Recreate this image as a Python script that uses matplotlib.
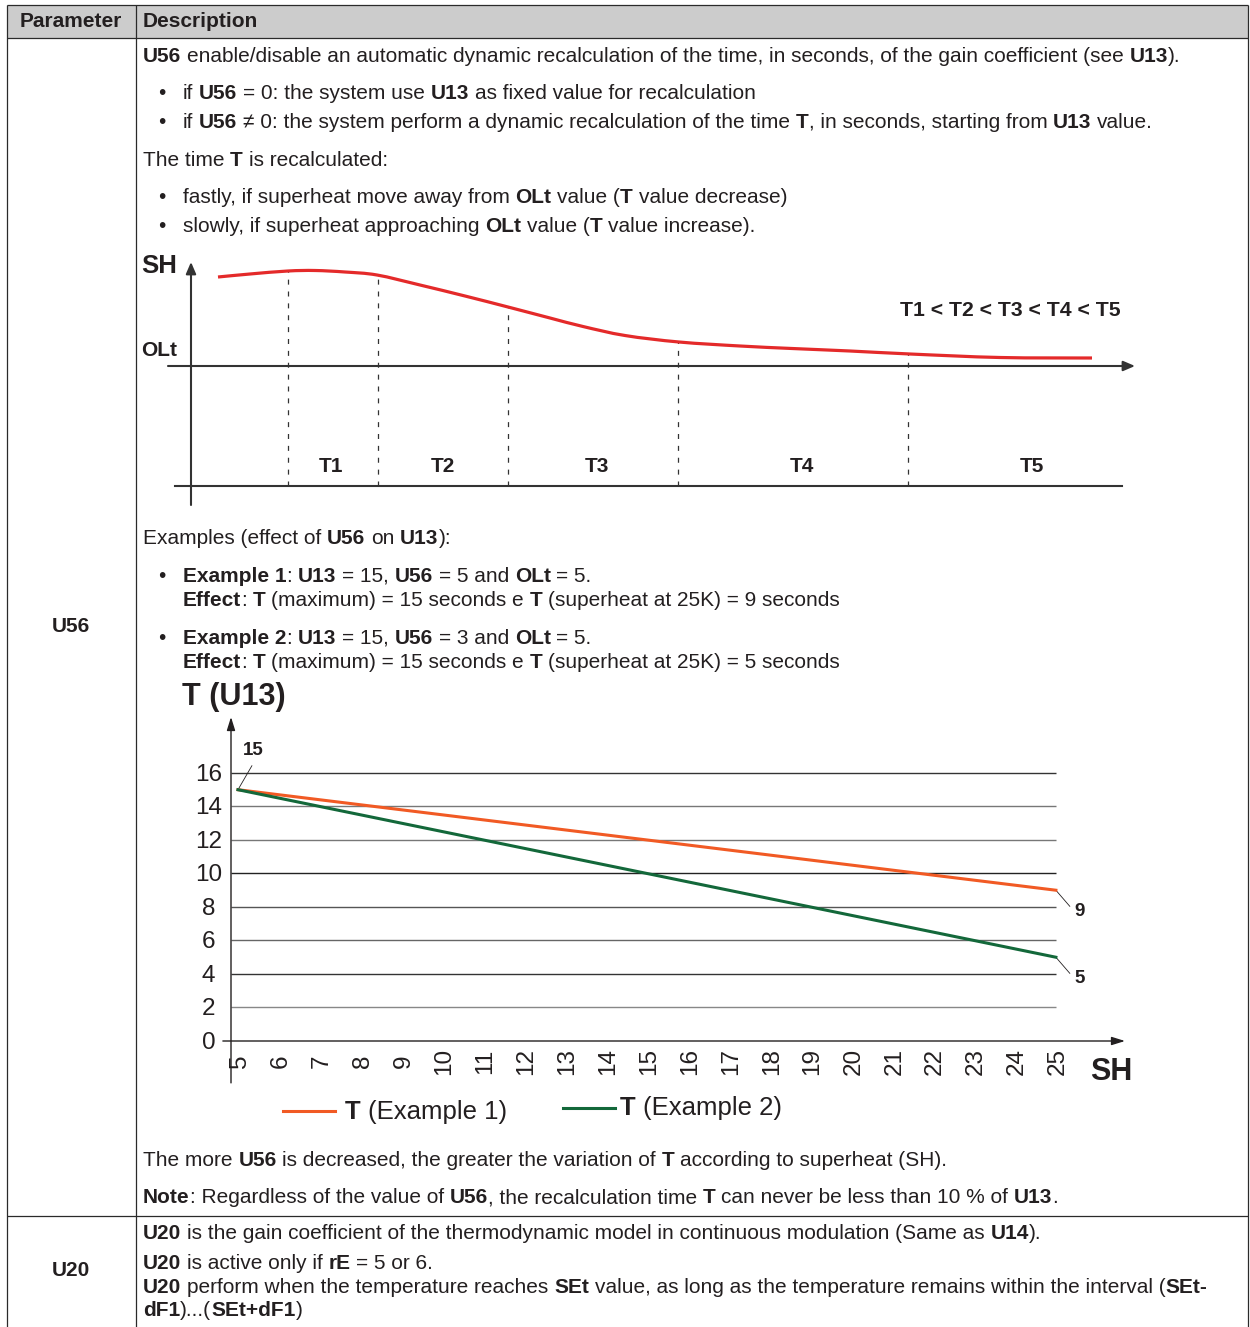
import matplotlib
matplotlib.use('Agg')
import matplotlib.pyplot as plt
import numpy as np
from matplotlib.font_manager import FontProperties
from matplotlib.patches import Rectangle, PathPatch
from matplotlib.path import Path

# ---------------- data ----------------
# conceptual superheat curve (diagram 1), time units vs SH above OLt
t_curve = [2.7, 5.9, 9.7, 12.4, 15.4, 18.6, 22.9, 27.4, 31.7, 35.9, 39.2, 43.4,
           48.8, 54.9, 60.1, 65.9, 71.9, 80.9, 90.1]
sh_curve = [8.9, 9.2, 9.5, 9.55, 9.4, 9.1, 8.1, 7.0, 5.9, 4.8, 3.95, 3.05,
            2.4, 2.0, 1.75, 1.5, 1.2, 0.85, 0.8]
t_bounds = [9.7, 18.7, 31.7, 48.7, 71.7]
sh_bounds = [9.5, 9.1, 5.9, 2.4, 1.2]
t_labels = ['T1', 'T2', 'T3', 'T4', 'T5']
t_label_x = [14.0, 25.2, 40.6, 61.1, 84.1]

# chart 2: T (U13) vs SH
sh_pts = [5, 25]
t_example1 = [15, 9]
t_example2 = [15, 5]
sh_ticks = list(range(5, 26))
t_ticks = [0, 2, 4, 6, 8, 10, 12, 14, 16]
series_names = ['T (Example 1)', 'T (Example 2)']

# ---------------- figure ----------------
W, H, DPI = 1250, 1327, 100
fig = plt.figure(figsize=(W / DPI, H / DPI), dpi=DPI)
fig.patch.set_facecolor('white')
base = fig.add_axes([0, 0, 1, 1])
base.set_xlim(0, W)
base.set_ylim(H, 0)
base.axis('off')
R = fig.canvas.get_renderer()

TXT = '#231f20'
ARIAL = ['Liberation Sans', 'DejaVu Sans']
BODY = ARIAL
BS = 15


def fprop(bold, size, family):
    return FontProperties(family=family, weight='bold' if bold else 'normal', size=size)


def adv(s, prop):
    w1 = R.get_text_width_height_descent('|' + s + '|', prop, ismath=False)[0]
    w0 = R.get_text_width_height_descent('||', prop, ismath=False)[0]
    return w1 - w0


def rich(x, y, markup, size=BS, family=BODY, color=TXT, va='baseline'):
    parts = markup.split('**')
    for i, s in enumerate(parts):
        if not s:
            continue
        prop = fprop(i % 2 == 1, size, family)
        core = s.strip(' ')
        lead = len(s) - len(s.lstrip(' '))
        trail = len(s) - len(s.rstrip(' '))
        sp = adv(' ', prop)
        x += lead * sp
        if core:
            base.text(x, y, core, fontproperties=prop, color=color, va=va, ha='left')
            x += adv(core, prop)
        x += trail * sp
    return x


# ---------------- table ----------------
LC = '#2a2a2a'
base.add_patch(Rectangle((7, 5), 1241, 33, facecolor='#cccccc', edgecolor='none'))
for (x0, x1, y0, y1) in [(7, 1248, 5, 5), (7, 1248, 38, 38), (7, 1248, 1216, 1216),
                         (7, 7, 5, H), (136, 136, 5, H), (1248, 1248, 5, H)]:
    base.plot([x0, x1], [y0, y1], color=LC, lw=0.9, solid_capstyle='butt')

base.text(20, 27, 'Parameter', fontproperties=fprop(True, BS, BODY), color=TXT, va='baseline')
base.text(143, 27, 'Description', fontproperties=fprop(True, BS, BODY), color=TXT, va='baseline')
base.text(71, 626, 'U56', fontproperties=fprop(True, BS, BODY), color=TXT, va='center', ha='center')
base.text(71, 1270, 'U20', fontproperties=fprop(True, BS, BODY), color=TXT, va='center', ha='center')

TX, BX, IX = 143, 158, 183
lines = [
    (TX, 62, "**U56** enable/disable an automatic dynamic recalculation of the time, in seconds, of the gain coefficient (see **U13**).", False),
    (IX, 99, "if **U56** = 0: the system use **U13** as fixed value for recalculation", True),
    (IX, 128, "if **U56** \u2260 0: the system perform a dynamic recalculation of the time **T**, in seconds, starting from **U13** value.", True),
    (TX, 166, "The time **T** is recalculated:", False),
    (IX, 203, "fastly, if superheat move away from **OLt** value (**T** value decrease)", True),
    (IX, 232, "slowly, if superheat approaching **OLt** value (**T** value increase).", True),
    (TX, 544, "Examples (effect of **U56** on **U13**):", False),
    (IX, 582, "**Example 1**: **U13** = 15, **U56** = 5 and **OLt** = 5.", True),
    (IX, 606, "**Effect**: **T** (maximum) = 15 seconds e **T** (superheat at 25K) = 9 seconds", False),
    (IX, 644, "**Example 2**: **U13** = 15, **U56** = 3 and **OLt** = 5.", True),
    (IX, 668, "**Effect**: **T** (maximum) = 15 seconds e **T** (superheat at 25K) = 5 seconds", False),
    (TX, 1166, "The more **U56** is decreased, the greater the variation of **T** according to superheat (SH).", False),
    (TX, 1203, "**Note**: Regardless of the value of **U56**, the recalculation time **T** can never be less than 10 % of **U13**.", False),
    (TX, 1239, "**U20** is the gain coefficient of the thermodynamic model in continuous modulation (Same as **U14**).", False),
    (TX, 1269, "**U20** is active only if **rE** = 5 or 6.", False),
    (TX, 1293, "**U20** perform when the temperature reaches **SEt** value, as long as the temperature remains within the interval (**SEt-**", False),
    (TX, 1316, "**dF1**)...(**SEt+dF1**)", False),
]
for x, y, m, bullet in lines:
    if bullet:
        base.text(BX, y, '\u2022', fontproperties=fprop(False, BS, BODY), color=TXT, va='baseline')
    rich(x, y, m)

# ---------------- diagram 1 ----------------
ax1 = fig.add_axes([141 / W, 1 - 510 / H, 1000 / W, 260 / H])
ax1.set_xlim(-5, 95)
ax1.set_ylim(-14.4, 11.6)
ax1.axis('off')
AC = '#333333'

# smooth curve through the read points (Catmull-Rom drawn as cubic Bezier path)
P = np.column_stack([t_curve, sh_curve])
verts = [P[0]]
codes = [Path.MOVETO]
for i in range(len(P) - 1):
    p0 = P[i - 1] if i > 0 else P[i]
    p3 = P[i + 2] if i + 2 < len(P) else P[i + 1]
    c1 = P[i] + (P[i + 1] - p0) / 6.0
    c2 = P[i + 1] - (p3 - P[i]) / 6.0
    verts += [c1, c2, P[i + 1]]
    codes += [Path.CURVE4] * 3
ax1.add_patch(PathPatch(Path(verts, codes), facecolor='none', edgecolor='#e42a2a',
                        lw=2.3, zorder=3, capstyle='butt'))

ax1.vlines(t_bounds, -12, sh_bounds, colors=AC, linestyles=(0, (4, 5.5)), lw=0.9)
ax1.plot([-1.6, 93.1], [-12, -12], color=AC, lw=1.5)
ax1.annotate('', xy=(94.4, 0), xytext=(-2.3, 0), annotation_clip=False,
             arrowprops=dict(arrowstyle='-|>,head_length=0.7,head_width=0.3', color=AC,
                             lw=1.5, shrinkA=0, shrinkB=0))
ax1.annotate('', xy=(0, 10.4), xytext=(0, -13.9), annotation_clip=False,
             arrowprops=dict(arrowstyle='-|>,head_length=0.7,head_width=0.3', color=AC,
                             lw=1.5, shrinkA=0, shrinkB=0))
for lab, lx in zip(t_labels, t_label_x):
    ax1.text(lx, -10.0, lab, fontproperties=fprop(True, 15, ARIAL), color=TXT,
             ha='center', va='center')
base.text(141, 266, 'SH', fontproperties=fprop(True, 18.5, ARIAL), color=TXT, va='center')
base.text(141, 350, 'OLt', fontproperties=fprop(True, 15, ARIAL), color=TXT, va='center')
base.text(1121, 311, 'T1 < T2 < T3 < T4 < T5', fontproperties=fprop(True, 15.2, ARIAL),
          color=TXT, va='center', ha='right')

# ---------------- chart 2 ----------------
ax2 = fig.add_axes([231 / W, 1 - 1041 / H, (1125 - 231) / W, (1041 - 717) / H])
XL, XR = 4.829, 26.69
ax2.set_xlim(XL, XR)
ax2.set_ylim(0, 19.34)
ax2.axis('off')
grid_cols = ['#888888', '#333333', '#666666', '#555555', '#222222', '#777777', '#777777', '#333333']
ax2.hlines(t_ticks[1:], XL, 25, colors=grid_cols, lw=1.0)
c1, c2 = '#f15a24', '#13683a'
ax2.plot(sh_pts, t_example1, color=c1, lw=2.2, zorder=3)
ax2.plot(sh_pts, t_example2, color=c2, lw=2.2, zorder=3)
ax2.annotate('', xy=(XL, 19.34), xytext=(XL, -2.5), annotation_clip=False,
             arrowprops=dict(arrowstyle='-|>,head_length=0.8,head_width=0.25', color=TXT,
                             lw=1.0, shrinkA=0, shrinkB=0))
ax2.annotate('', xy=(XR, 0), xytext=(4.63, 0), annotation_clip=False,
             arrowprops=dict(arrowstyle='-|>,head_length=0.8,head_width=0.25', color=TXT,
                             lw=1.0, shrinkA=0, shrinkB=0))
for v in t_ticks:
    ax2.text(4.28, v - 0.1, str(v), fontproperties=fprop(False, 17.5, ARIAL), color=TXT,
             ha='center', va='center', clip_on=False)
for v in sh_ticks:
    ax2.text(v + 0.05, -1.2, str(v), fontproperties=fprop(False, 17.5, ARIAL), color=TXT,
             ha='center', va='center', rotation=90, clip_on=False)
# value callouts
ax2.plot([sh_pts[0], sh_pts[0] + 0.34], [t_example1[0], t_example1[0] + 1.43], color=TXT, lw=0.6, clip_on=False)
ax2.text(sh_pts[0] + 0.37, t_example1[0] + 2.37, str(t_example1[0]), fontproperties=fprop(True, 13.5, ARIAL),
         color=TXT, ha='center', va='center')
for yv in (t_example1[-1], t_example2[-1]):
    ax2.plot([sh_pts[-1], sh_pts[-1] + 0.34], [yv, yv - 0.96], color=TXT, lw=0.6, clip_on=False)
    ax2.text(sh_pts[-1] + 0.59, yv - 1.25, str(yv), fontproperties=fprop(True, 13.5, ARIAL),
             color=TXT, ha='center', va='center', clip_on=False)

base.text(182, 697, 'T (U13)', fontproperties=fprop(True, 22, ARIAL), color=TXT, va='center')
base.text(1090, 1072, 'SH', fontproperties=fprop(True, 22, ARIAL), color=TXT, va='center')

# legend
for (lx0, lx1, ly, col, tx, ty, name) in [(283, 335, 1111, c1, 345, 1119, series_names[0]),
                                          (563, 615, 1108, c2, 620, 1115, series_names[1])]:
    base.plot([lx0, lx1], [ly, ly], color=col, lw=2.2)
    head, rest = name.split(' ', 1)
    rich(tx, ty, '**' + head + '** ' + rest, size=18.5, family=ARIAL)

fig.savefig('out.png', dpi=DPI, facecolor='white')
